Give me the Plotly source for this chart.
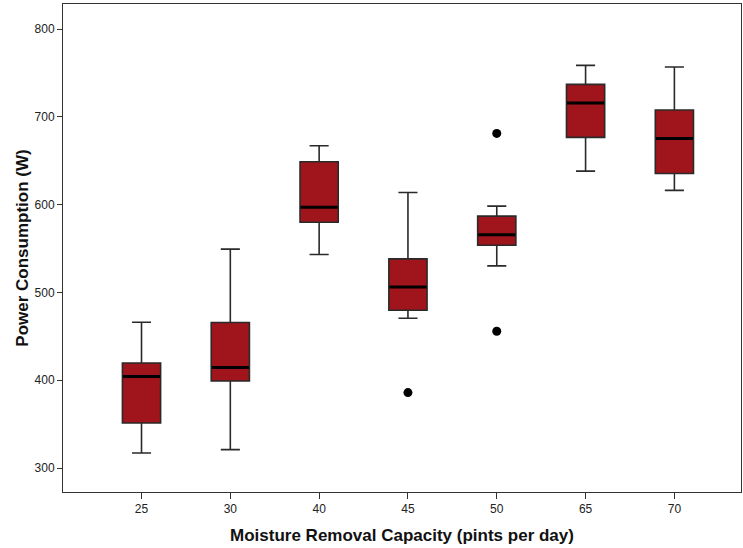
import plotly.graph_objects as go

categories = ["25", "30", "40", "45", "50", "65", "70"]
lower_whisker = [317.1, 321.0, 543.2, 470.6, 530.2, 638.2, 616.2]
q1_values = [351.3, 399.2, 580.0, 479.7, 553.8, 676.6, 635.5]
median_values = [404.2, 414.4, 597.1, 506.3, 565.6, 715.7, 675.4]
q3_values = [419.7, 465.7, 648.8, 538.2, 586.9, 737.0, 707.7]
upper_whisker = [466.1, 549.3, 667.0, 613.8, 598.3, 758.6, 756.7]
outlier_x = ["45", "50", "50"]
outlier_y = [385.9, 681.1, 455.8]
y_ticks = [300, 400, 500, 600, 700, 800]

fig = go.Figure()
fig.add_trace(go.Box(
    x=categories,
    q1=q1_values, median=median_values, q3=q3_values,
    lowerfence=lower_whisker, upperfence=upper_whisker,
    fillcolor="#A0151B",
    line=dict(color="#2a2a2a", width=1.6),
    whiskerwidth=0.5,
    width=0.43,
    boxpoints=False,
    showlegend=False,
    hoverinfo="skip",
))
fig.add_trace(go.Scatter(
    x=categories, y=median_values, mode="markers",
    marker=dict(symbol="line-ew", size=26.5, line=dict(color="black", width=3)),
    showlegend=False, hoverinfo="skip",
))
fig.add_trace(go.Scatter(
    x=outlier_x, y=outlier_y, mode="markers",
    marker=dict(symbol="circle", size=9, color="black"),
    showlegend=False, hoverinfo="skip",
))

fig.update_layout(
    width=743, height=548,
    margin=dict(l=63, r=2, t=4, b=56),
    paper_bgcolor="white", plot_bgcolor="white",
    font=dict(family="Liberation Sans, Arial, sans-serif", color="#222"),
    boxmode="overlay",
)
fig.update_xaxes(
    type="category", categoryorder="array", categoryarray=categories,
    range=[-0.884, 6.75], automargin=False,
    showline=True, mirror=True, linecolor="#333", linewidth=1,
    ticks="outside", ticklen=6, tickcolor="#333",
    showgrid=False, zeroline=False,
    tickfont=dict(size=12, color="#222"),
    title=dict(text="<b>Moisture Removal Capacity (pints per day)</b>",
               font=dict(size=17, color="#111"), standoff=13),
)
fig.update_yaxes(
    range=[272.7, 828.5], automargin=False,
    tickvals=y_ticks,
    showline=True, mirror=True, linecolor="#333", linewidth=1,
    ticks="outside", ticklen=5, tickcolor="#333",
    showgrid=False, zeroline=False,
    tickfont=dict(size=12, color="#222"),
    title=dict(text="<b>Power Consumption (W)</b>",
               font=dict(size=17, color="#111"), standoff=1),
)

fig.write_html("out.html", config={"displayModeBar": False},
               post_script="document.body.style.margin='0';document.body.style.overflow='hidden';")
